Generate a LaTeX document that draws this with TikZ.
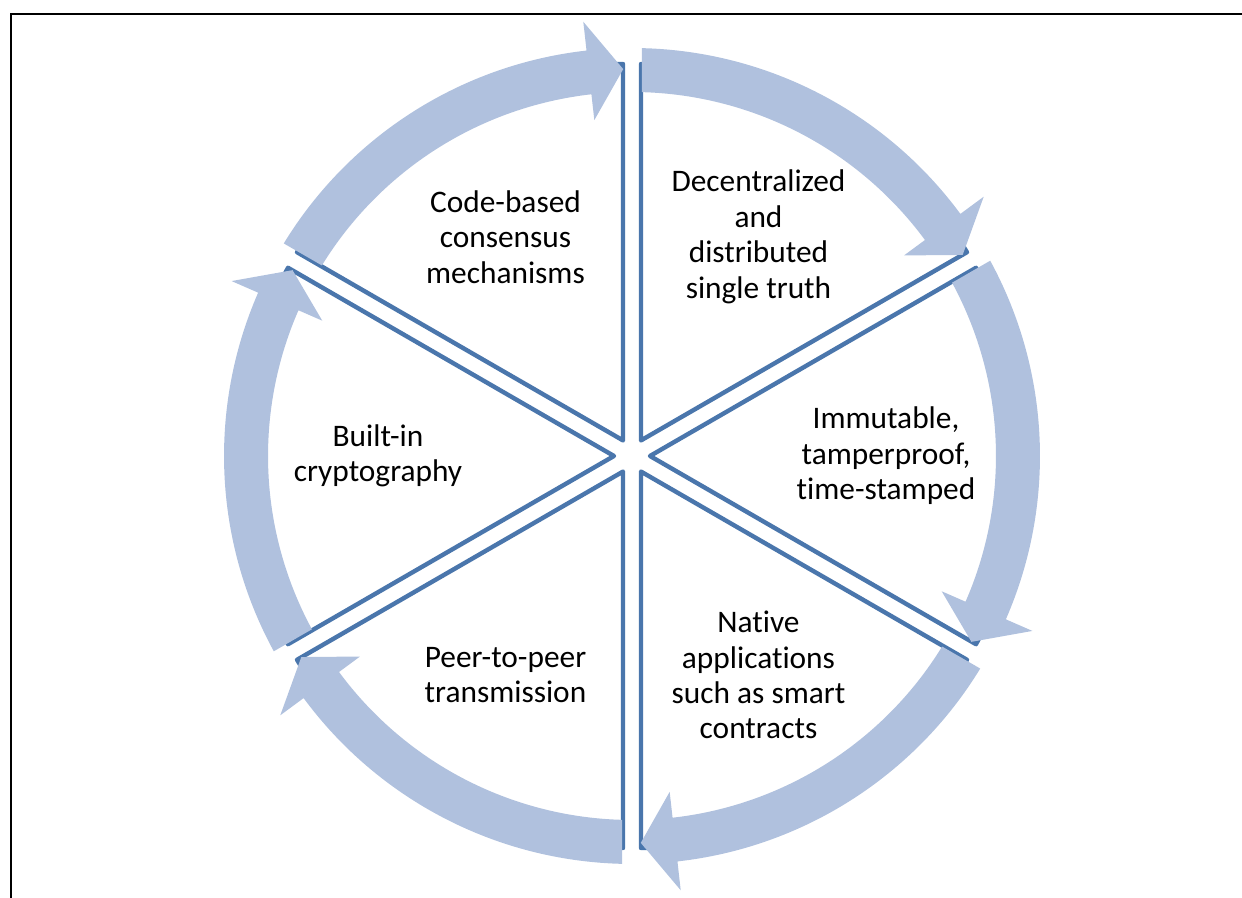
\documentclass[tikz,border=0pt]{standalone}
\usepackage{fontspec}
\setmainfont{Carlito}[Ligatures=NoCommon]
\usepackage{xcolor}
\definecolor{ringblue}{RGB}{176,193,222}
\definecolor{edgeblue}{RGB}{74,118,172}

\begin{document}
\begin{tikzpicture}[x=0.025cm, y=0.025cm]
    % Styles
    \tikzstyle{sector} = [draw=edgeblue, fill=white, line width=0.11cm, line join=round]
    \tikzstyle{ring} = [fill=ringblue]
    \tikzstyle{txt} = [align=center, font=\fontsize{22.3pt}{25.2pt}\selectfont]
    \tikzstyle{frameline} = [line width=0.07cm]

    \useasboundingbox (-632,-442) rectangle (610,456);
    \draw [frameline] (-621,-442) -- (-621,442) -- (610,442);

    % Sectors
    \foreach \m in {60,0,-60,-120,180,120}
        \draw [sector] (\m:18) -- (\m+28.685:392.1) arc[start angle=\m+28.685, end angle=\m-28.685, radius=392.1] -- cycle;

    % Arrows
    \foreach \b in {90,30,-30,-90,-150,150} {
        \pgfmathsetmacro{\e}{\b-60}
        \fill [ring] (\b-1.4:408) arc[start angle=\b-1.4, end angle=\e+6.4, radius=408]
            -- (\e+6.4:437) -- (\e+1.3:387) -- (\e+6.4:338) -- (\e+6.4:364)
            arc[start angle=\e+6.4, end angle=\b-1.57, radius=364] -- cycle;
    }

    % Nodes
    \node [txt] (decentral) at (60:253) {Decentralized\\and\\distributed\\single truth};
    \node [txt] (immutable) at (0:254) {Immutable,\\tamperproof,\\time-stamped};
    \node [txt] (native) at (-60:253) {Native\\applications\\such as smart\\contracts};
    \node [txt] (peer) at (-120:253) {Peer-to-peer\\transmission};
    \node [txt] (crypto) at (180:254) {Built-in\\cryptography};
    \node [txt] (consensus) at (120:253) {Code-based\\consensus\\mechanisms};
\end{tikzpicture}
\end{document}
